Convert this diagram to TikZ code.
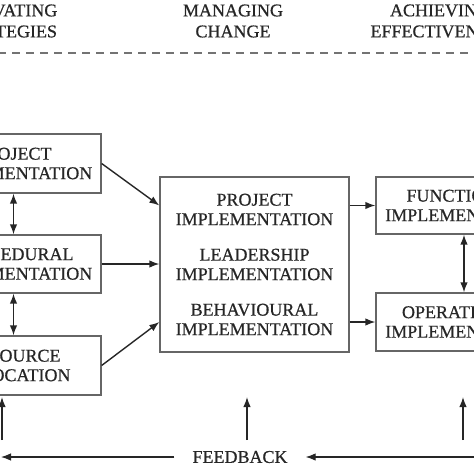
\documentclass[tikz,border=0pt]{standalone}
\usepackage{fontspec}
\setmainfont{Liberation Serif}
\newfontfamily\diagfont{Liberation Serif}[FakeBold=0.6]
\usetikzlibrary{arrows.meta}

\tikzset{
	blockbox/.style={draw=black!60, line width=1.3pt, align=center, inner sep=0pt,
		text=black!85, font=\diagfont\fontsize{18}{19.5}\selectfont},
	heading/.style={align=center, inner sep=0pt, text=black!85,
		font=\diagfont\fontsize{18}{21}\selectfont},
	flow/.style={draw=black!85, line width=1.4pt, -{Latex[length=10pt,width=7.5pt]}},
	twoway/.style={draw=black!85, line width=1.4pt,
		{Latex[length=10pt,width=7.5pt]}-{Latex[length=10pt,width=7.5pt]}}
}

\begin{document}
\begin{tikzpicture}[x=1pt, y=-1pt]
	\useasboundingbox (0,0) rectangle (474,474);
	\clip (0,0) rectangle (474,474);

	% headings
	\node[heading] (hl) at (4,21) {ACTIVATING\\STRATEGIES};
	\node[heading] (hm) at (233,21) {MANAGING\\CHANGE};
	\node[heading] (hr) at (440,21) {ACHIEVING\\EFFECTIVENESS};

	\draw[black!55, line width=1.2pt, dash pattern=on 8pt off 6pt] (-2,53) -- (480,53);

	% left column
	\node[blockbox, minimum width=175pt, minimum height=59pt] (pi) at (13.5,163.5)
		{PROJECT\\IMPLEMENTATION};
	\node[blockbox, minimum width=175pt, minimum height=58pt] (pr) at (13.5,264)
		{PROCEDURAL\\IMPLEMENTATION};
	\node[blockbox, minimum width=175pt, minimum height=59pt] (ra) at (13.5,365.5)
		{RESOURCE\\ALLOCATION};

	% centre block
	\node[blockbox, minimum width=189pt, minimum height=175pt] (cb) at (254.5,264.5)
		{PROJECT\\IMPLEMENTATION\\[16pt]LEADERSHIP\\IMPLEMENTATION\\[16pt]BEHAVIOURAL\\IMPLEMENTATION};

	% right column
	\node[blockbox, minimum width=176pt, minimum height=57pt] (fi) at (464,205.5)
		{FUNCTIONAL\\IMPLEMENTATION};
	\node[blockbox, minimum width=176pt, minimum height=58pt] (oi) at (464,322)
		{OPERATIONAL\\IMPLEMENTATION};

	% links
	\draw[twoway] (pi.south) -- (pr.north);
	\draw[twoway] (pr.south) -- (ra.north);
	\draw[twoway] (fi.south) -- (oi.north);

	\draw[flow] (pi.east) -- (cb.west |- fi.west);
	\draw[flow] (pr.east) -- (cb.west |- pr.east);
	\draw[flow] (ra.east) -- (cb.west |- oi.west);

	\draw[flow] (cb.east |- fi.west) -- (fi.west);
	\draw[flow] (cb.east |- oi.west) -- (oi.west);

	% feedback
	\node[heading, inner xsep=18pt] (fb) at (240,457) {FEEDBACK};
	\coordinate (fbr) at (480,457);
	\coordinate (fbl) at (1,457);
	\draw[flow, line width=1.1pt] (fbr) -- (fb.east);
	\draw[flow, line width=1.1pt] (fb.west) -- (fbl);

	\coordinate (ul0) at (2,440);   \coordinate (ul1) at (2,397);
	\coordinate (um0) at (247,440); \coordinate (um1) at (247,397);
	\coordinate (ur0) at (463,440); \coordinate (ur1) at (463,397);
	\draw[flow] (ul0) -- (ul1);
	\draw[flow] (um0) -- (um1);
	\draw[flow] (ur0) -- (ur1);

\end{tikzpicture}
\end{document}
